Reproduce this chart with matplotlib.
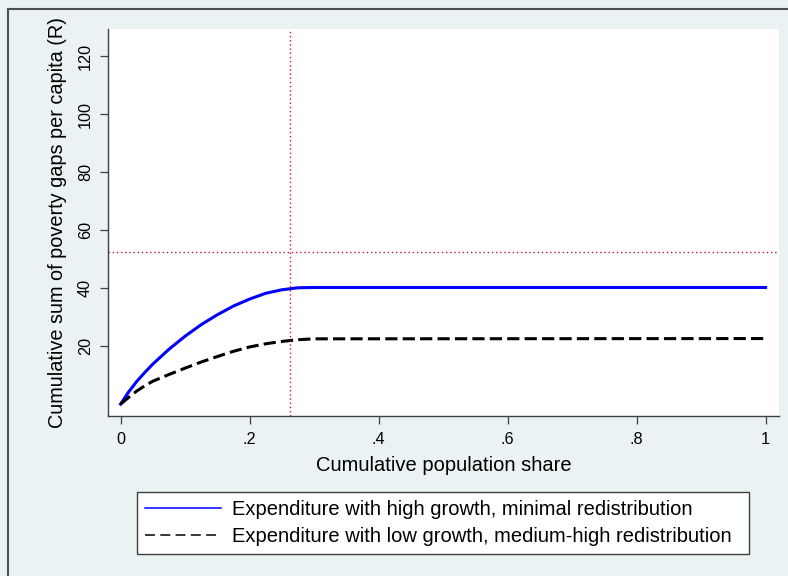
import matplotlib.pyplot as plt
from matplotlib.lines import Line2D

plt.rcParams['font.family'] = ['Liberation Sans', 'DejaVu Sans']

# cumulative poverty gap curves
pop_share = [0, 0.0125, 0.025, 0.0375, 0.05, 0.075, 0.1, 0.125, 0.15, 0.175,
             0.2, 0.225, 0.25, 0.275, 0.3, 1.0]
gap_high_growth = [0, 4.2, 7.8, 10.9, 13.8, 18.9, 23.4, 27.4, 30.8, 33.8,
                   36.2, 38.2, 39.4, 40.1, 40.2, 40.2]
gap_low_growth = [0, 2.3, 4.5, 6.3, 7.9, 10.2, 12.4, 14.5, 16.4, 18.2,
                  19.7, 20.8, 21.6, 22.2, 22.5, 22.6]

headcount_share = 0.262   # vertical reference line
gap_reference = 52.5      # horizontal reference line

xticks = [0, 0.2, 0.4, 0.6, 0.8, 1]
xtick_labels = ['0', '.2', '.4', '.6', '.8', '1']
yticks = [20, 40, 60, 80, 100, 120]

labels = ['Expenditure with high growth, minimal redistribution',
          'Expenditure with low growth, medium-high redistribution']

bg = '#eaf2f3'
axis_col = '#404040'
ref_col = '#c8143c'

fig = plt.figure(figsize=(7.88, 5.76), dpi=100, facecolor=bg)
ax = fig.add_axes([108 / 788, 1 - 416 / 576, 671 / 788, 387 / 576])
ax.set_facecolor('white')

ax.plot(pop_share, gap_high_growth, color='#0000ff', lw=2.2)
ax.plot(pop_share, gap_low_growth, color='black', lw=2.2, ls=(0, (4, 1.7)))
ax.axvline(headcount_share, color=ref_col, lw=1.0, ls=(0, (1, 2)))
ax.axhline(gap_reference, color=ref_col, lw=1.0, ls=(0, (1, 2)))

ax.set_xlim(-0.0195, 1.0208)
ax.set_ylim(-4.1, 129.3)
ax.set_xticks(xticks)
ax.set_xticklabels(xtick_labels)
ax.set_yticks(yticks)

for side in ['top', 'right']:
    ax.spines[side].set_visible(False)
for side in ['left', 'bottom']:
    ax.spines[side].set_color(axis_col)
    ax.spines[side].set_linewidth(1.0)

ax.tick_params(axis='both', direction='out', length=5.8, width=0.9,
               color=axis_col, labelsize=11.7, labelcolor='black')
ax.tick_params(axis='x', pad=5.5)
ax.tick_params(axis='y', pad=5)
plt.setp(ax.get_yticklabels(), rotation=90, va='center')

ax.set_xlabel('Cumulative population share', fontsize=14.5, labelpad=7)
ax.set_ylabel('Cumulative sum of poverty gaps per capita (R)', fontsize=14.3, labelpad=8)

# legend keys are drawn thinner than the plotted lines
handles = [Line2D([], [], color='#0000ff', lw=1.1),
           Line2D([], [], color='black', lw=1.1, ls=(0, (6.5, 3.5)))]
leg = fig.legend(handles, labels, loc='center', mode='expand',
                 bbox_to_anchor=(137 / 788, 1 - 556 / 576, 612 / 788, 66 / 576),
                 fontsize=14.5, handlelength=3.75, handletextpad=0.55,
                 labelspacing=0.42, borderpad=0.4, borderaxespad=0,
                 fancybox=False, frameon=True, edgecolor=axis_col, framealpha=1)
leg.get_frame().set_linewidth(1.0)

# outer border along top and left edge
fig.add_artist(Line2D([8 / 788, 1], [1 - 9 / 576, 1 - 9 / 576],
                      transform=fig.transFigure, color='#505050', lw=1.5))
fig.add_artist(Line2D([8 / 788, 8 / 788], [0, 1 - 9 / 576],
                      transform=fig.transFigure, color='#505050', lw=1.5))

fig.savefig('out.png', dpi=100, facecolor=bg)
